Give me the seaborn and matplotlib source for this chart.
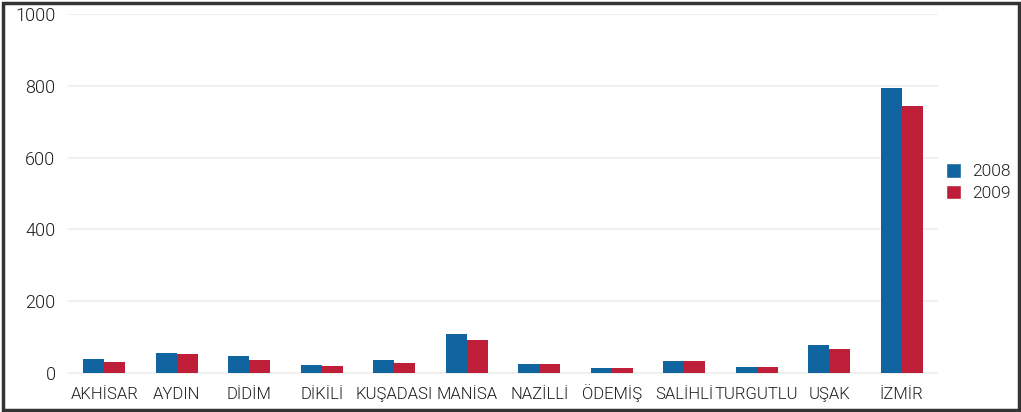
import matplotlib
matplotlib.use("Agg")
import matplotlib.pyplot as plt
import pandas as pd
import seaborn as sns
from matplotlib.patches import Patch, Rectangle

# values
cities = ["AKHİSAR", "AYDIN", "DİDİM", "DİKİLİ", "KUŞADASI", "MANİSA",
          "NAZİLLİ", "ÖDEMİŞ", "SALİHLİ", "TURGUTLU", "UŞAK", "İZMİR"]
values_2008 = [38, 55, 46, 22, 35, 107, 25, 14, 32, 16, 77, 795]
values_2009 = [29, 53, 37, 19, 27, 92, 25, 13, 32, 16, 66, 745]
years = ["2008", "2009"]
yticks = [0, 200, 400, 600, 800, 1000]

colors = {"2008": "#10649f", "2009": "#be1e37"}

df = pd.DataFrame({
    "city": cities * 2,
    "year": [years[0]] * len(cities) + [years[1]] * len(cities),
    "value": values_2008 + values_2009,
})

sns.set_style("white")
plt.rcParams["font.family"] = ["Roboto", "DejaVu Sans"]
plt.rcParams["font.weight"] = 300

fig = plt.figure(figsize=(10.21, 4.12), dpi=100)
ax = fig.add_axes([68 / 1021, 1 - 380 / 412, (938 - 68) / 1021, (380 - 14) / 412])

sns.barplot(data=df, x="city", y="value", hue="year", palette=colors,
            width=0.58, gap=0, saturation=1, linewidth=0, ax=ax, legend=False)

ax.set_xlim(-0.5, 11.5)
ax.set_ylim(-20, 1000)
ax.set_yticks(yticks)
ax.set_yticklabels([str(t) for t in yticks])
ax.yaxis.grid(True, color="#eeeeee", linewidth=1.2)
ax.set_axisbelow(True)
for s in ax.spines.values():
    s.set_visible(False)
ax.tick_params(axis="both", length=0, labelcolor="#1e1e1e")
ax.tick_params(axis="y", pad=9, labelsize=13)
ax.tick_params(axis="x", pad=14, labelsize=12)
for lbl in ax.get_xticklabels():
    lbl.set_verticalalignment("baseline")
ax.set_xlabel("")
ax.set_ylabel("")

handles = [Patch(facecolor=colors[y], label=y) for y in years]
fig.legend(handles=handles, loc="center left", bbox_to_anchor=(930 / 1021, 1 - 182 / 412),
           frameon=False, handlelength=0.9, handleheight=0.9, handletextpad=0.6,
           labelspacing=0.3, prop={"size": 12.5, "weight": 300}, labelcolor="#1e1e1e")

fig.patches.append(Rectangle((2.5 / 1021, 2.5 / 412), 1 - 5 / 1021, 1 - 5 / 412,
                             transform=fig.transFigure, fill=False,
                             edgecolor="#333333", linewidth=2.5))

fig.savefig("out.png", dpi=100)
